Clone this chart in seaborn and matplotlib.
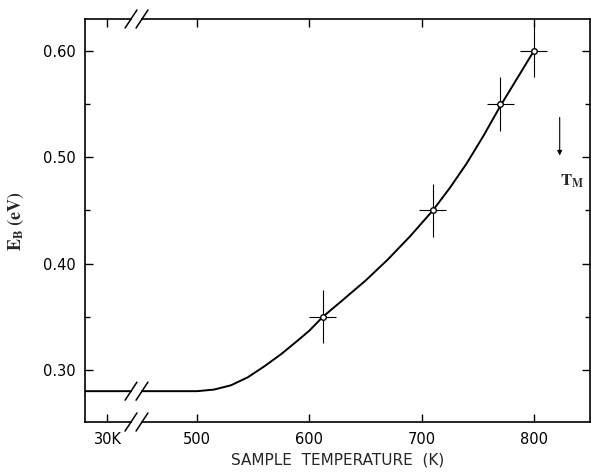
import numpy as np
import pandas as pd
import matplotlib
matplotlib.use("Agg")
import matplotlib.pyplot as plt
import seaborn as sns

# measured points (sample temperature in K, barrier energy in eV)
temp_pts = [612, 710, 770, 800]
eb_pts = [0.35, 0.45, 0.55, 0.60]
eb_err = [0.025, 0.025, 0.025, 0.025]
temp_err = [12, 12, 12, 12]

# smooth curve (x=400..445 stands for the 30K side of the break)
curve_t = [400, 420, 445, 470, 500, 515, 530, 545, 560, 575, 590, 600, 612,
           630, 650, 670, 690, 710, 725, 740, 755, 770, 785, 800]
curve_eb = [0.28, 0.28, 0.28, 0.28, 0.280, 0.2815, 0.2855, 0.293, 0.3035, 0.315,
            0.328, 0.337, 0.35, 0.366, 0.384, 0.404, 0.426, 0.45, 0.471,
            0.494, 0.520, 0.548, 0.574, 0.60]

xticks = [420, 500, 600, 700, 800]
xticklabels = ["30K", "500", "600", "700", "800"]
yticks = [0.30, 0.40, 0.50, 0.60]
yticklabels = ["0.30", "0.40", "0.50", "0.60"]

sns.set_style("ticks")
plt.rcParams['font.family'] = ['DejaVu Sans']
plt.rcParams['mathtext.fontset'] = 'stix'

fig = plt.figure(figsize=(5.91, 4.72), dpi=100)
ax = fig.add_axes([85 / 591, 1 - 422 / 472, 505 / 591, 403 / 472])

df_curve = pd.DataFrame({"T": curve_t, "E": curve_eb})
sns.lineplot(data=df_curve, x="T", y="E", ax=ax, color="black", lw=1.4, sort=False)
ax.errorbar(temp_pts, eb_pts, yerr=eb_err, xerr=temp_err, fmt="o", ms=4,
            mfc="white", mec="black", mew=1.0, ecolor="black", elinewidth=0.8,
            capsize=0, zorder=5)

ax.set_xlim(400, 850)
ax.set_ylim(0.251, 0.630)
ax.set_xticks(xticks)
ax.set_xticklabels(xticklabels)
ax.set_yticks(yticks)
ax.set_yticklabels(yticklabels)
ax.set_yticks([0.35, 0.45, 0.55], minor=True)
ax.tick_params(which="both", direction="in", top=True, right=True,
               labelsize=10.5, width=1.0, colors="black")
ax.tick_params(which="major", length=6, pad=7)
ax.tick_params(which="minor", length=3.5)
for s in ax.spines.values():
    s.set_linewidth(1.2)
    s.set_color("black")

ax.set_xlabel("SAMPLE  TEMPERATURE  (K)", fontsize=11, labelpad=4)
ax.set_ylabel(r"$\mathbf{E_{B}\ (eV)}$", fontsize=13, labelpad=12)

# axis break marks
def draw_break(y, trans, dy):
    ax.plot([441.8, 449.8], [y, y], color="white", lw=4, transform=trans,
            clip_on=False, zorder=6, solid_capstyle="butt")
    for xc in (441.0, 450.8):
        ax.plot([xc - 5.3, xc + 5.3], [y - dy, y + dy], color="black", lw=1.1,
                transform=trans, clip_on=False, zorder=7)

xaxes = ax.get_xaxis_transform()
draw_break(1.0, xaxes, 0.0225)
draw_break(0.0, xaxes, 0.0225)
draw_break(0.28, ax.transData, 0.0085)

# melting temperature marker
ax.annotate("", xy=(823, 0.499), xytext=(823, 0.540),
            arrowprops=dict(arrowstyle="-|>", color="black", lw=0.8,
                            mutation_scale=7))
ax.text(823, 0.478, r"$\mathbf{T_{M}}$", fontsize=12, ha="left", va="center")

fig.savefig("out.png", dpi=100)
plt.close(fig)
